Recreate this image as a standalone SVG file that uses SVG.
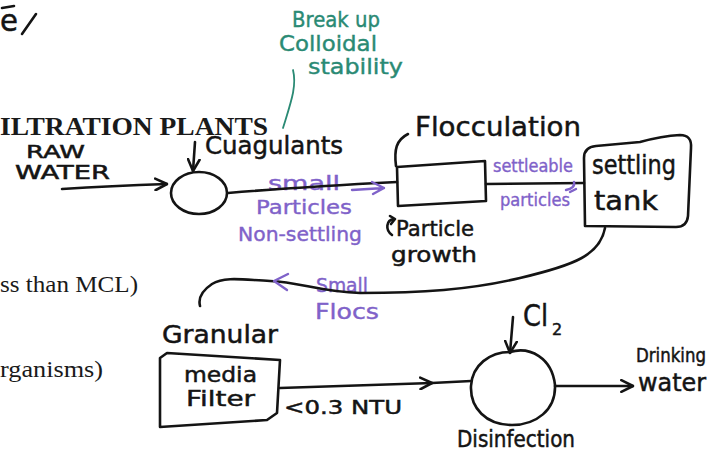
<svg xmlns="http://www.w3.org/2000/svg" width="717" height="460" viewBox="0 0 717 460">
  <style>
    .ink { fill: none; stroke: #141414; stroke-width: 2.6; stroke-linecap: round; stroke-linejoin: round; }
    .ink-p { fill: none; stroke: #7f62c9; stroke-width: 2.4; stroke-linecap: round; stroke-linejoin: round; }
    .ink-g { fill: none; stroke: #2a8a74; stroke-width: 1.8; stroke-linecap: round; }
    .hand { font-family: "DejaVu Sans", "Liberation Sans", sans-serif; fill: #141414; stroke: #141414; stroke-width: 0.5; }
    .hand-p { font-family: "DejaVu Sans", "Liberation Sans", sans-serif; fill: #7f62c9; stroke: #7f62c9; stroke-width: 0.4; }
    .hand-g { font-family: "DejaVu Sans", "Liberation Sans", sans-serif; fill: #2a8a74; stroke: #2a8a74; stroke-width: 0.4; }
    .print { font-family: "Liberation Serif", "Times New Roman", serif; fill: #1a1a1a; }
  </style>
  <defs>
    <marker id="chev" viewBox="0 0 12 12" refX="11" refY="6" markerWidth="14" markerHeight="14" markerUnits="userSpaceOnUse" orient="auto">
      <path d="M1,1 L11,6 L1,11" fill="none" stroke="#141414" stroke-width="2.2" stroke-linecap="round" stroke-linejoin="round"/>
    </marker>
  </defs>

  <rect width="717" height="460" fill="#ffffff"/>

  <!-- printed page text behind the sketch -->
  <g id="printed-text">
    <text class="print" x="0" y="135" font-size="25" font-weight="700" textLength="268" lengthAdjust="spacingAndGlyphs">ILTRATION PLANTS</text>
    <text class="print" x="0" y="292" font-size="23" textLength="138" lengthAdjust="spacingAndGlyphs">ss than MCL)</text>
    <text class="print" x="0" y="377" font-size="23" textLength="103" lengthAdjust="spacingAndGlyphs">rganisms)</text>
  </g>

  <!-- scribbled heading fragment -->
  <g id="heading">
    <path class="ink" d="M2,8 L14,6"/>
    <text class="hand" x="0" y="31" font-size="30" textLength="18" lengthAdjust="spacingAndGlyphs">e</text>
    <path class="ink" d="M36,14 L22,34" stroke-width="3.2"/>
  </g>

  <!-- green note -->
  <g id="note-colloidal">
    <text class="hand-g" x="292" y="27" font-size="21" textLength="88" lengthAdjust="spacingAndGlyphs">Break up</text>
    <text class="hand-g" x="279" y="51" font-size="22" textLength="98" lengthAdjust="spacingAndGlyphs">Colloidal</text>
    <text class="hand-g" x="308" y="74" font-size="22" textLength="95" lengthAdjust="spacingAndGlyphs">stability</text>
  </g>

  <!-- inlet labels -->
  <g id="raw-water">
    <text class="hand" x="26" y="158" font-size="18" textLength="59" lengthAdjust="spacingAndGlyphs">RAW</text>
    <text class="hand" x="15" y="179" font-size="19" textLength="95" lengthAdjust="spacingAndGlyphs">WATER</text>
  </g>

  <g id="coagulation">
    <ellipse class="ink" cx="199" cy="193" rx="28" ry="21"/>
    <text class="hand" x="205" y="154" font-size="24" textLength="138" lengthAdjust="spacingAndGlyphs">Cuagulants</text>
  </g>

  <g id="flocculation">
    <path class="ink" d="M397,167 L485,161 L486,201 L398,206 Z"/>
    <path class="ink" d="M396,166 C394,150 396,140 408,134"/>
    <text class="hand" x="415" y="136" font-size="27" textLength="166" lengthAdjust="spacingAndGlyphs">Flocculation</text>
    <path class="ink" d="M392,235 C385,230 386,220 394,219 M390,216 L395,219 L391,224" stroke-width="2"/>
    <text class="hand" x="396" y="236" font-size="22" textLength="78" lengthAdjust="spacingAndGlyphs">Particle</text>
    <text class="hand" x="391" y="262" font-size="22" textLength="86" lengthAdjust="spacingAndGlyphs">growth</text>
  </g>

  <g id="settling-tank">
    <path class="ink" d="M585,226 L584,158 Q584,147 596,146 L640,142 Q662,136 680,135 Q692,135 691,148 L688,216 Q687,227 676,227 Z"/>
    <text class="hand" x="592" y="174" font-size="26" textLength="84" lengthAdjust="spacingAndGlyphs">settling</text>
    <text class="hand" x="594" y="210" font-size="26" textLength="64" lengthAdjust="spacingAndGlyphs">tank</text>
  </g>

  <g id="granular-filter">
    <text class="hand" x="162" y="343" font-size="24" textLength="116" lengthAdjust="spacingAndGlyphs">Granular</text>
    <path class="ink" d="M167,353 L280,360 L277,413 L267,420 L160,427 L160,358 Z"/>
    <text class="hand" x="184" y="382" font-size="22" textLength="73" lengthAdjust="spacingAndGlyphs">media</text>
    <text class="hand" x="186" y="406" font-size="22" textLength="69" lengthAdjust="spacingAndGlyphs">Filter</text>
  </g>

  <g id="disinfection">
    <path class="ink" d="M510,352 C530,346 552,358 555,385 C556,410 536,425 512,425 C486,425 470,408 471,386 C472,365 490,352 510,352 Z"/>
    <text class="hand" x="523" y="326" font-size="30" textLength="25" lengthAdjust="spacingAndGlyphs">Cl</text>
    <text class="hand" x="552" y="335" font-size="16">2</text>
    <text class="hand" x="457" y="447" font-size="23" textLength="118" lengthAdjust="spacingAndGlyphs">Disinfection</text>
  </g>

  <g id="drinking-water">
    <text class="hand" x="636" y="362" font-size="19" textLength="70" lengthAdjust="spacingAndGlyphs">Drinking</text>
    <text class="hand" x="638" y="391" font-size="24" textLength="68" lengthAdjust="spacingAndGlyphs">water</text>
  </g>

  <!-- flow labels -->
  <g id="flow-labels">
    <text class="hand-p" x="268" y="190" font-size="20" textLength="72" lengthAdjust="spacingAndGlyphs">small</text>
    <text class="hand-p" x="256" y="214" font-size="20" textLength="96" lengthAdjust="spacingAndGlyphs">Particles</text>
    <text class="hand-p" x="238" y="241" font-size="20" textLength="124" lengthAdjust="spacingAndGlyphs">Non-settling</text>
    <text class="hand-p" x="493" y="172" font-size="18" textLength="80" lengthAdjust="spacingAndGlyphs">settleable</text>
    <text class="hand-p" x="500" y="206" font-size="18" textLength="70" lengthAdjust="spacingAndGlyphs">particles</text>
    <text class="hand-p" x="316" y="292" font-size="19" textLength="52" lengthAdjust="spacingAndGlyphs">Small</text>
    <text class="hand-p" x="315" y="319" font-size="21" textLength="64" lengthAdjust="spacingAndGlyphs">Flocs</text>
    <text class="hand" x="284" y="414" font-size="20" textLength="118" lengthAdjust="spacingAndGlyphs">&lt;0.3 NTU</text>
  </g>

  <!-- connectors -->
  <g id="connectors">
    <path class="ink-g" d="M293,70 C297,86 291,102 283,128"/>
    <path class="ink" d="M62,189 Q110,186 167,184" marker-end="url(#chev)"/>
    <path class="ink" d="M195,142 L193,171" marker-end="url(#chev)"/>
    <path class="ink" d="M228,193 Q300,187 397,182"/>
    <path class="ink-p" d="M352,190 L384,188 M372,182 L384,188 L373,194"/>
    <path class="ink" d="M486,184 L584,183"/>
    <path class="ink-p" d="M566,190 C572,189 575,186 574,182 M570,192 L576,189"/>
    <path class="ink" d="M605,228 C600,255 575,265 520,278 C470,290 420,293 360,293 C320,292 300,282 270,281 C245,280 225,276 212,284 C203,290 198,298 200,306"/>
    <path class="ink-p" d="M288,274 L274,281 L287,290"/>
    <path class="ink" d="M280,388 L432,383" marker-end="url(#chev)"/>
    <path class="ink" d="M432,383 L471,381"/>
    <path class="ink" d="M513,317 L510,353" marker-end="url(#chev)"/>
    <path class="ink" d="M555,386 L633,386" marker-end="url(#chev)"/>
  </g>
</svg>
